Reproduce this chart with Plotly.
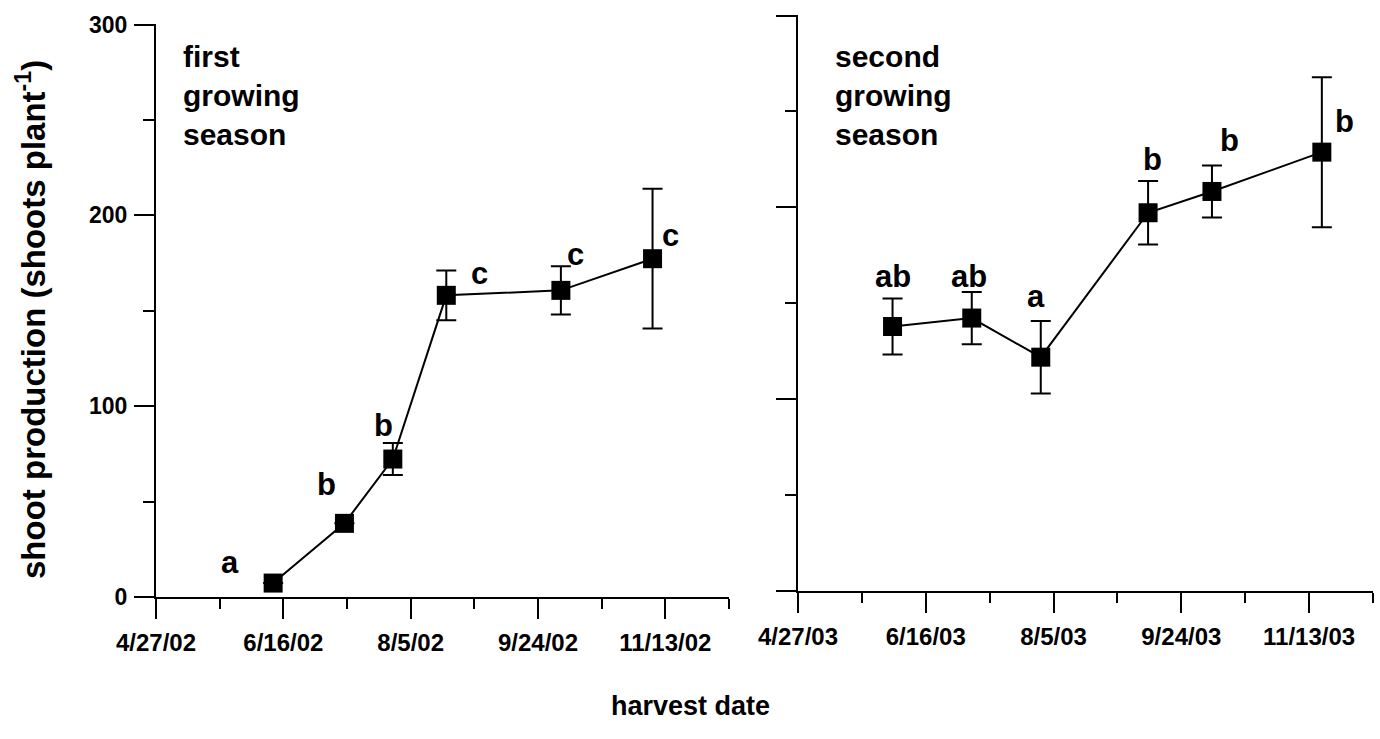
import plotly.graph_objects as go

# ---------------- data ----------------
dates_2002 = ["2002-06-12", "2002-07-10", "2002-07-29", "2002-08-19", "2002-10-03", "2002-11-08"]
shoots_2002 = [7.3, 38.6, 72.3, 158.1, 160.7, 177.3]
err_2002 = [0, 0, 8.4, 13.0, 12.7, 36.6]
letters_2002 = ["a", "b", "b", "c", "c", "c"]

dates_2003 = ["2003-06-03", "2003-07-04", "2003-07-31", "2003-09-11", "2003-10-06", "2003-11-18"]
shoots_2003 = [137.9, 142.3, 121.9, 197.2, 208.3, 228.8]
err_2003 = [14.6, 13.6, 18.9, 16.5, 13.6, 39.1]
letters_2003 = ["ab", "ab", "a", "b", "b", "b"]

xtick_vals_2002 = ["2002-04-27", "2002-06-16", "2002-08-05", "2002-09-24", "2002-11-13"]
xtick_text_2002 = ["4/27/02", "6/16/02", "8/5/02", "9/24/02", "11/13/02"]
xminor_2002 = ["2002-05-22", "2002-07-11", "2002-08-30", "2002-10-19", "2002-12-08"]
xrange_2002 = ["2002-04-27", "2002-12-08 00:30"]

xtick_vals_2003 = ["2003-04-27", "2003-06-16", "2003-08-05", "2003-09-24", "2003-11-13"]
xtick_text_2003 = ["4/27/03", "6/16/03", "8/5/03", "9/24/03", "11/13/03"]
xminor_2003 = ["2003-05-22", "2003-07-11", "2003-08-30", "2003-10-19", "2003-12-08"]
xrange_2003 = ["2003-04-27", "2003-12-08 00:30"]

ytick_vals = [0, 100, 200, 300]
ytick_text = ["0", "100", "200", "300"]
yminor = [50, 150, 250]
yrange = [0, 300.3]

# label pixel offsets (style only)
offs_2002 = [(-43, 21), (-18, 39), (-9, 34), (33, 22), (15, 36), (18, 23)]
offs_2003 = [(0, 50), (-3, 42), (-5, 61), (4, 53), (18, 51), (23, 31)]

FONT = "Liberation Sans, Arial, sans-serif"
W, H = 1380, 739

fig = go.Figure()

def add_series(x, y, e, xa, ya):
    fig.add_trace(go.Scatter(
        x=x, y=y, xaxis=xa, yaxis=ya, mode="lines+markers",
        line=dict(color="black", width=2),
        marker=dict(symbol="square", size=19, color="black"),
        error_y=dict(type="data", array=e, visible=True, color="black",
                     thickness=2, width=10),
        showlegend=False, hoverinfo="x+y", cliponaxis=False))

add_series(dates_2002, shoots_2002, err_2002, "x", "y")
add_series(dates_2003, shoots_2003, err_2003, "x2", "y2")

xtickfont = dict(family=FONT, size=24, color="black", weight="bold")
ytickfont = dict(family=FONT, size=23, color="black", weight="bold")

def xaxis_cfg(domain, rng, tv, tt, mv, anchor):
    return dict(domain=domain, type="date", range=rng, anchor=anchor, automargin=False,
                tickmode="array", tickvals=tv, ticktext=tt, ticks="outside",
                ticklen=20, tickwidth=2, tickcolor="black", ticklabelstandoff=3,
                minor=dict(tickmode="array", tickvals=mv, ticks="outside",
                           ticklen=10, tickwidth=2, tickcolor="black", showgrid=False),
                showline=True, linecolor="black", linewidth=2,
                showgrid=False, zeroline=False, tickfont=xtickfont, fixedrange=True)

def yaxis_cfg(domain, anchor, labels):
    return dict(domain=domain, range=yrange, anchor=anchor, automargin=False,
                tickmode="array", tickvals=ytick_vals, ticktext=ytick_text,
                showticklabels=labels, ticks="outside",
                ticklen=20, tickwidth=2, tickcolor="black", ticklabelstandoff=2,
                minor=dict(tickmode="array", tickvals=yminor, ticks="outside",
                           ticklen=11, tickwidth=2, tickcolor="black", showgrid=False),
                showline=True, linecolor="black", linewidth=2,
                showgrid=False, zeroline=False, tickfont=ytickfont, fixedrange=True)

fig.update_layout(
    template="none",
    width=W, height=H,
    margin=dict(l=0, r=0, t=0, b=0, pad=0),
    paper_bgcolor="white", plot_bgcolor="white",
    xaxis=xaxis_cfg([156 / W, 729 / W], xrange_2002, xtick_vals_2002, xtick_text_2002, xminor_2002, "y"),
    yaxis=yaxis_cfg([(H - 597) / H, (H - 24) / H], "x", True),
    xaxis2=xaxis_cfg([798 / W, 1373 / W], xrange_2003, xtick_vals_2003, xtick_text_2003, xminor_2003, "y2"),
    yaxis2=yaxis_cfg([(H - 591) / H, (H - 15) / H], "x2", False),
)

ann = []
lblfont = dict(family=FONT, size=31, color="black", weight="bold")
for xs, ys, ls, offs, xr, yr in [(dates_2002, shoots_2002, letters_2002, offs_2002, "x", "y"),
                                 (dates_2003, shoots_2003, letters_2003, offs_2003, "x2", "y2")]:
    for xv, yv, lt, (dx, dy) in zip(xs, ys, ls, offs):
        ann.append(dict(x=xv, y=yv, xref=xr, yref=yr, text=lt, showarrow=False,
                        xshift=dx, yshift=dy, font=lblfont,
                        xanchor="center", yanchor="middle"))

ttlfont = dict(family=FONT, size=30, color="black", weight="bold")
ann.append(dict(x=181 / W, y=1 - 38 / H, xref="paper", yref="paper",
                text="first<br>growing<br>season", showarrow=False, align="left",
                xanchor="left", yanchor="top", font=ttlfont))
ann.append(dict(x=833 / W, y=1 - 38 / H, xref="paper", yref="paper",
                text="second<br>growing<br>season", showarrow=False, align="left",
                xanchor="left", yanchor="top", font=ttlfont))
ann.append(dict(x=690 / W, y=1 - 706 / H, xref="paper", yref="paper",
                text="harvest date", showarrow=False,
                xanchor="center", yanchor="middle",
                font=dict(family=FONT, size=27, color="black", weight="bold")))
ann.append(dict(x=31 / W, y=1 - 320 / H, xref="paper", yref="paper",
                text="shoot production (shoots plant<sup>-1</sup>)", showarrow=False,
                textangle=-90, xanchor="center", yanchor="middle",
                font=dict(family=FONT, size=33, color="black", weight="bold")))
fig.update_layout(annotations=ann)

fig.write_html("out.html", config={"displayModeBar": False})
